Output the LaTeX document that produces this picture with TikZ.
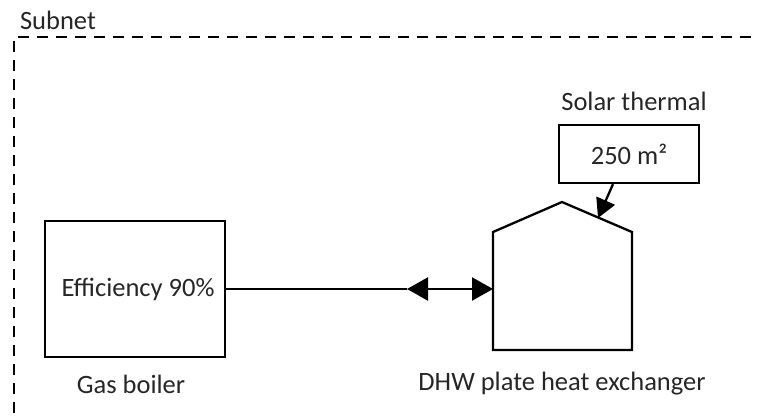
\documentclass[tikz,border=0pt]{standalone}
\usepackage{fontspec}
\setmainfont{Carlito}
\usetikzlibrary{arrows.meta}

\begin{document}
\begin{tikzpicture}[x=1pt, y=-1pt,
		every node/.style={font=\fontsize{26.5}{30}\selectfont, text=black!85, inner sep=0pt},
		unit/.style={draw, line width=2.3pt, minimum width=#1, text=black!85},
		pipe/.style={line width=2.3pt}]
		%%%%% START %%%%%
		\useasboundingbox (0, 0) rectangle (757, 416);
		
		% subnet frame
		\draw[line width=2.4pt, dash pattern=on 11pt off 8pt] (14, 413) -- (14, 37) -- (757, 37);
		\node (subnet) at (58, 20) {Subnet};
		
		% gas boiler
		\node[unit=180pt, minimum height=136pt] (boiler) at (135, 289) {\hspace*{6pt}Efficiency 90\%};
		\node (boilerlabel) at (131, 384) {Gas boiler};
		
		% DHW plate heat exchanger
		\coordinate (hxw) at (493, 289);
		\coordinate (hxroof) at (598, 218);
		\draw[pipe, line join=miter] (493, 350) -- (493, 232) -- (562, 202) -- (632, 232) -- (632, 350) -- cycle;
		\node (hxlabel) at (562, 384) {DHW plate heat exchanger};
		
		% solar thermal
		\node[unit=140pt, minimum height=58pt] (solar) at (629, 154) {250 m²};
		\node (solarlabel) at (634, 101) {Solar thermal};
		
		% connections
		\coordinate (mid) at (407, 289);
		\draw[pipe] (boiler.east) -- (mid);
		\draw[pipe, {Triangle[length=21pt, width=23pt]}-{Triangle[length=21pt, width=23pt]}] (mid) -- (hxw);
		\draw[pipe, -{Triangle[length=19pt, width=20pt]}] (solar.south) ++(-16, 0) coordinate (solarout) -- (hxroof);
		
		%%%%% END %%%%%
\end{tikzpicture}
\end{document}
